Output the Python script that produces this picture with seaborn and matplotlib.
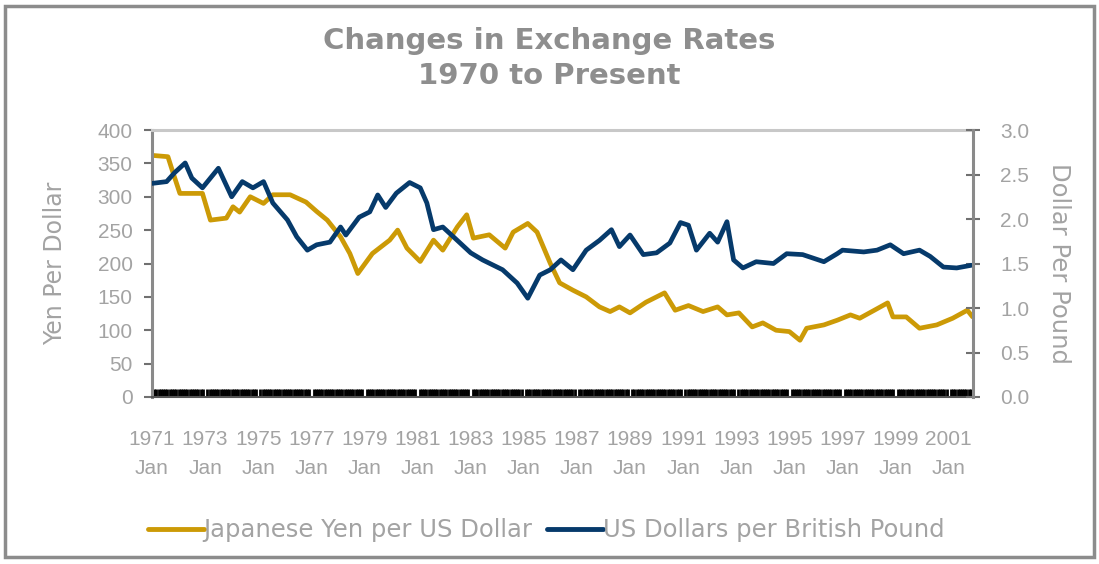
import matplotlib
matplotlib.use("Agg")
import matplotlib.pyplot as plt
from matplotlib.lines import Line2D
from matplotlib.patches import Rectangle
from matplotlib.ticker import MultipleLocator, FixedLocator
import seaborn as sns
import pandas as pd

# ---- data ----
yen_years = [1971.0, 1971.6, 1971.8, 1972.05, 1972.9, 1973.2, 1973.8, 1974.05, 1974.3, 1974.7,
             1975.2, 1975.55, 1976.2, 1976.8, 1977.2, 1977.6, 1978.1, 1978.45, 1978.75, 1979.3,
             1979.95, 1980.25, 1980.6, 1981.1, 1981.6, 1981.95, 1982.5, 1982.85, 1983.1, 1983.7,
             1984.3, 1984.6, 1985.15, 1985.5, 1986.0, 1986.35, 1986.85, 1987.35, 1987.85, 1988.25,
             1988.6, 1989.0, 1989.6, 1990.3, 1990.7, 1991.2, 1991.75, 1992.3, 1992.65, 1993.1,
             1993.6, 1994.0, 1994.5, 1995.0, 1995.4, 1995.65, 1996.3, 1996.8, 1997.3, 1997.65,
             1998.2, 1998.7, 1998.9, 1999.4, 1999.9, 2000.55, 2001.15, 2001.7, 2001.9]
yen_values = [362, 360, 335, 305, 305, 265, 268, 285, 277, 300,
              290, 303, 303, 292, 278, 265, 240, 215, 185, 215,
              235, 250, 223, 203, 235, 220, 255, 273, 238, 243,
              223, 247, 260, 247, 200, 171, 160, 150, 135, 128,
              135, 126, 142, 156, 130, 137, 128, 135, 123, 126,
              105, 111, 100, 98, 85, 103, 108, 115, 123, 118,
              130, 141, 120, 120, 103, 108, 118, 130, 120]

gbp_years = [1971.0, 1971.55, 1971.85, 1972.25, 1972.5, 1972.9, 1973.5, 1974.0, 1974.4, 1974.8,
             1975.2, 1975.55, 1976.1, 1976.45, 1976.85, 1977.2, 1977.7, 1978.1, 1978.3, 1978.8,
             1979.2, 1979.5, 1979.8, 1980.2, 1980.7, 1981.1, 1981.35, 1981.6, 1981.95, 1982.35,
             1983.0, 1983.45, 1984.2, 1984.75, 1985.15, 1985.6, 1986.0, 1986.4, 1986.85, 1987.35,
             1987.85, 1988.3, 1988.6, 1989.0, 1989.5, 1990.0, 1990.5, 1990.9, 1991.2, 1991.5,
             1992.0, 1992.3, 1992.65, 1992.9, 1993.25, 1993.75, 1994.4, 1994.9, 1995.5, 1996.3,
             1996.8, 1997.0, 1997.8, 1998.3, 1998.8, 1999.3, 1999.9, 2000.3, 2000.8, 2001.3, 2001.85]
gbp_values = [2.40, 2.42, 2.52, 2.63, 2.46, 2.35, 2.57, 2.25, 2.42, 2.35,
              2.42, 2.18, 1.99, 1.80, 1.65, 1.71, 1.74, 1.91, 1.82, 2.02,
              2.08, 2.27, 2.13, 2.29, 2.41, 2.35, 2.18, 1.88, 1.91, 1.80,
              1.62, 1.54, 1.43, 1.28, 1.11, 1.37, 1.43, 1.54, 1.43, 1.65,
              1.76, 1.88, 1.69, 1.82, 1.60, 1.62, 1.73, 1.96, 1.93, 1.65,
              1.84, 1.74, 1.97, 1.54, 1.45, 1.52, 1.50, 1.61, 1.60, 1.52,
              1.61, 1.65, 1.63, 1.65, 1.71, 1.61, 1.65, 1.58, 1.46, 1.45, 1.48]

tick_years = list(range(1971, 2002, 2))
tick_labels = [f"{y}\nJan" for y in tick_years]
left_ticks = [0, 50, 100, 150, 200, 250, 300, 350, 400]
right_ticks = [0.0, 0.5, 1.0, 1.5, 2.0, 2.5, 3.0]

title = "Changes in Exchange Rates\n1970 to Present"
yen_name = "Japanese Yen per US Dollar"
gbp_name = "US Dollars per British Pound"

# ---- style ----
sns.set_theme(style="white")
plt.rcParams['font.family'] = ['Liberation Sans', 'DejaVu Sans']
tickfont = ['Liberation Sans', 'DejaVu Sans']

GOLD = "#CC9A06"
NAVY = "#063A6B"
GRAY = "#A3A3A3"
TGRAY = "#8E8E8E"

fig = plt.figure(figsize=(10.99, 5.64), dpi=100)
fig.patch.set_facecolor("white")
fig.patches.append(Rectangle((0.005, 0.012), 0.99, 0.978, transform=fig.transFigure,
                             fill=False, edgecolor="#8C8C8C", linewidth=2.5))

ax = fig.add_axes([0.1383, 0.2961, 0.885 - 0.1383, 0.7695 - 0.2961])
ax2 = ax.twinx()

df_yen = pd.DataFrame({"year": yen_years, "value": yen_values})
df_gbp = pd.DataFrame({"year": gbp_years, "value": gbp_values})

sns.lineplot(data=df_yen, x="year", y="value", ax=ax, color=GOLD, linewidth=3.4)
sns.lineplot(data=df_gbp, x="year", y="value", ax=ax2, color=NAVY, linewidth=3.4)

ax.set_xlim(1971.0, 2001.9)
ax.set_ylim(0, 400)
ax2.set_ylim(0, 3.0)

ax.xaxis.set_major_locator(FixedLocator(tick_years))
ax.set_xticklabels(tick_labels, family=tickfont, fontsize=15, color=GRAY, linespacing=1.65)
ax.xaxis.set_minor_locator(MultipleLocator(1 / 12))
ax.tick_params(axis="x", which="major", length=0, pad=24)
ax.tick_params(axis="x", which="minor", direction="in", length=6, width=2.0, color="black", bottom=True)

ax.set_yticks(left_ticks)
ax.set_yticklabels([str(v) for v in left_ticks], family=tickfont, fontsize=15, color=GRAY)
ax.tick_params(axis="y", which="major", direction="out", length=6, width=1.5, color="#707070", left=True, pad=8)

ax2.set_yticks(right_ticks)
ax2.set_yticklabels([f"{v:.1f}" for v in right_ticks], family=tickfont, fontsize=15, color=GRAY)
ax2.tick_params(axis="y", which="major", direction="inout", length=10, width=1.5, color="#707070", right=True, pad=15)

for a in (ax, ax2):
    a.set_xlabel("")
    for s in a.spines.values():
        s.set_visible(False)
ax.spines["left"].set_visible(True)
ax.spines["left"].set_color("#8A8A8A")
ax.spines["left"].set_linewidth(2.2)
ax2.spines["right"].set_visible(True)
ax2.spines["right"].set_color("#8A8A8A")
ax2.spines["right"].set_linewidth(2.2)
ax.spines["top"].set_visible(True)
ax.spines["top"].set_color("#C8C8C8")
ax.spines["top"].set_linewidth(2.2)
ax.spines["bottom"].set_visible(True)
ax.spines["bottom"].set_color("#555555")
ax.spines["bottom"].set_linewidth(1.5)

ax.set_ylabel("Yen Per Dollar", fontsize=17, color=GRAY, family="DejaVu Sans", labelpad=22)
ax2.set_ylabel("Dollar Per Pound", fontsize=17.5, color=GRAY, family="DejaVu Sans", rotation=270, labelpad=30)

fig.text(0.5, 0.952, title, ha="center", va="top", fontsize=21, fontweight="bold",
         color=TGRAY, family="DejaVu Sans", linespacing=1.3)

handles = [Line2D([], [], color=GOLD, linewidth=3.5), Line2D([], [], color=NAVY, linewidth=3.5)]
leg = fig.legend(handles, [yen_name, gbp_name], loc="center", bbox_to_anchor=(0.497, 0.06), ncol=2,
                 frameon=False, handlelength=2.3, handletextpad=0.0, columnspacing=0.6,
                 labelcolor=GRAY, prop={"family": "DejaVu Sans", "size": 17.5})

fig.savefig("out.png", dpi=100)
